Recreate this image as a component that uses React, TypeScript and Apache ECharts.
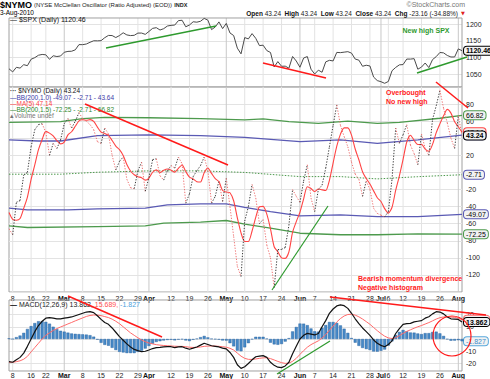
import React, { useEffect, useRef } from "react";
import * as echarts from "echarts";

const FONT = "Liberation Sans, Arial, sans-serif";

const monthDays: [string, number[]][] = [
  ["Feb", [5, 8, 9, 10, 11, 12, 16, 17, 18, 19, 22, 23, 24, 25, 26]],
  ["Mar", [1, 2, 3, 4, 5, 8, 9, 10, 11, 12, 15, 16, 17, 18, 19, 22, 23, 24, 25, 26, 29, 30, 31]],
  ["Apr", [1, 5, 6, 7, 8, 9, 12, 13, 14, 15, 16, 19, 20, 21, 22, 23, 26, 27, 28, 29, 30]],
  ["May", [3, 4, 5, 6, 7, 10, 11, 12, 13, 14, 17, 18, 19, 20, 21, 24, 25, 26, 27, 28]],
  ["Jun", [1, 2, 3, 4, 7, 8, 9, 10, 11, 14, 15, 16, 17, 18, 21, 22, 23, 24, 25, 28, 29, 30]],
  ["Jul", [1, 2, 6, 7, 8, 9, 12, 13, 14, 15, 16, 19, 20, 21, 22, 23, 26, 27, 28, 29, 30]],
  ["Aug", [2, 3]],
];
const dates: string[] = monthDays.flatMap(([m, ds]) => ds.map((d) => `${m} ${d}`));

const xTicks: [string, string][] = [
  ["Feb 8", "8"], ["Feb 16", "16"], ["Feb 22", "22"], ["Mar 1", "Mar"], ["Mar 8", "8"],
  ["Mar 15", "15"], ["Mar 22", "22"], ["Mar 29", "29"], ["Apr 1", "Apr"], ["Apr 12", "12"],
  ["Apr 19", "19"], ["Apr 26", "26"], ["May 3", "May"], ["May 10", "10"], ["May 17", "17"],
  ["May 24", "24"], ["Jun 1", "Jun"], ["Jun 7", "7"], ["Jun 14", "14"], ["Jun 21", "21"],
  ["Jun 28", "28"], ["Jul 1", "Jul"], ["Jul 6", "6"], ["Jul 12", "12"], ["Jul 19", "19"],
  ["Jul 26", "26"], ["Aug 2", "Aug"],
];
const monthNames = ["Mar", "Apr", "May", "Jun", "Jul", "Aug"];

const spx = [
  1066.19, 1056.74, 1070.52, 1068.13, 1078.47, 1075.51, 1094.87, 1099.51, 1106.75, 1109.17, 1108.01, 1094.6, 1105.24, 1102.94, 1104.49,
  1115.71, 1118.31, 1118.79, 1122.97, 1138.7, 1138.5, 1140.45, 1145.61, 1150.24, 1149.99, 1150.51, 1159.46, 1166.21, 1165.83, 1159.9, 1165.81, 1174.17, 1167.72, 1165.73, 1166.59, 1173.22, 1173.27, 1169.43,
  1178.1, 1187.44, 1189.44, 1182.45, 1186.44, 1194.37, 1196.48, 1197.3, 1210.65, 1211.67, 1192.13, 1197.52, 1207.17, 1205.94, 1208.67, 1217.28, 1212.05, 1183.71, 1191.36, 1206.78, 1186.69,
  1202.26, 1173.6, 1165.87, 1128.15, 1110.88, 1159.73, 1155.79, 1171.67, 1157.44, 1135.68, 1136.94, 1120.8, 1115.05, 1071.59, 1087.69, 1073.65, 1074.03, 1067.95, 1103.06, 1089.41,
  1070.71, 1098.38, 1102.83, 1064.88, 1050.47, 1062.0, 1055.69, 1086.84, 1091.6, 1089.63, 1115.23, 1114.61, 1116.04, 1117.51, 1113.2, 1095.31, 1092.04, 1073.69, 1076.76, 1074.57, 1041.24, 1030.71,
  1027.37, 1022.58, 1028.06, 1060.27, 1070.25, 1077.96, 1078.75, 1095.34, 1095.17, 1096.48, 1064.88, 1071.25, 1083.48, 1069.59, 1093.67, 1102.66, 1115.01, 1113.84, 1106.13, 1101.53, 1101.6,
  1125.86, 1120.46,
];

const nymo = [
  -66, -73, -35, -33, -3, 0, 30, 50, 56, 57, 47, 20, 34, 28, 38,
  57, 63, 52, 60, 70, 63, 60, 56, 50, 36, 34, 52, 45, 20, 3, 13, 18, -8, -18, -19, 2, 12, -22,
  -6, 15, 16, -4, -9, 2, 8, 5, 18, 10, -36, -25, -5, 2, 8, 18, 2, -36, -28, -10, -34,
  -7, -40, -75, -110, -122, -57, -40, -14, -30, -60, -55, -85, -100, -135, -90, -90, -88, -62, -20, -28,
  -35, -10, 9, -30, -46, -20, -15, 5, 30, 55, 79, 55, 42, 30, 12, -2, -8, -28, -10, -20, -42, -48,
  -50, -52, -46, -8, 52, 34, 44, 56, 32, 22, 9, 45, 28, 20, 62, 78, 96, 75, 58, 40, 28,
  66.4, 43.24,
];

const ma5 = [
  -47, -55, -56, -54, -42, -28.8, -8.2, 8.8, 26.6, 38.6, 48, 46, 42.8, 37.2, 33.4,
  35.4, 44, 47.6, 54, 60.4, 61.6, 61, 61.8, 59.8, 53, 47.2, 45.6, 43.4, 37.4, 30.8, 26.6, 19.8, 9.2, 1.6, -2.8, -5, -6.2, -9,
  -6.6, 0.2, 3, -0.2, 2.4, 4, 2.6, 0.4, 4.8, 8.6, 1, -5.6, -7.6, -10.8, -11.2, -0.4, 5, -1.2, -7.2, -10.8, -21.2,
  -23, -23.8, -33.2, -53.2, -70.8, -80.8, -80.8, -68.6, -52.6, -40.2, -39.8, -48.8, -66, -87, -93, -100, -100.6, -93, -70, -57.6,
  -46.6, -31, -16.8, -18.8, -22.4, -19.4, -20.4, -21.2, -9.2, 11, 30.8, 44.8, 52.2, 52.2, 43.6, 27.4, 14.8, 0.8, -7.2, -13.6, -21.6, -29.6,
  -34, -42.4, -47.6, -40.8, -20.8, -4, 15.2, 35.6, 43.6, 37.6, 32.6, 32.8, 27.2, 24.8, 32.8, 46.6, 56.8, 66.2, 73.8, 69.4, 59.4,
  53.5, 47.14,
];

// Bollinger bands (200-day), read at key dates: [day index, value]
const bb15Upper: [number, number][] = [[0, 58.6], [14, 59.5], [20, 63], [26, 64.5], [38, 64], [52, 63], [64, 61.4], [69, 62.6], [76, 59.5], [84, 57.5], [92, 60], [100, 57.5], [106, 58.7], [117, 63.4], [123, 66.82]];
const bb10Upper: [number, number][] = [[0, 38], [8, 36.8], [14, 36.8], [24, 43], [38, 43.9], [52, 43], [64, 41], [79, 36], [90, 38], [100, 34], [111, 38], [123, 43.64]];
const bbMid: [number, number][] = [[0, -2.1], [14, -2.1], [24, 0.2], [38, 1.8], [52, 1.8], [64, 0], [79, -4.9], [90, -4.9], [100, -7.6], [111, -5], [123, -2.71]];
const bb10Lower: [number, number][] = [[0, -41.9], [5, -43.9], [16, -43.9], [24, -42.7], [37, -41.9], [43, -38], [52, -36.8], [59, -36.8], [64, -41], [71, -45.8], [79, -50.9], [90, -49.7], [100, -51.7], [111, -51.7], [123, -49.07]];
const bb15Lower: [number, number][] = [[0, -62.6], [5, -64.5], [24, -63.4], [37, -62.6], [42, -59.4], [52, -58.3], [59, -56.3], [64, -60.5], [71, -65.3], [79, -71.2], [90, -73], [100, -73], [111, -72], [123, -72.25]];

const macd = [
  -18.5, -19, -17, -15, -11.5, -6, 0, 6, 11, 14.5, 17, 17.5, 17, 16.5, 16.5,
  17, 17.5, 18, 19, 20, 21, 22, 22.3, 21.5, 19, 16, 13.5, 12, 9, 5.5, 2, -1, -4, -6.5, -8.5, -9.5, -10.3, -10,
  -9, -7.8, -7, -6.8, -6.5, -6.3, -6.3, -7, -6.5, -6.3, -7.5, -8.4, -7.5, -6.5, -5, -3.5, -4.5, -5.5, -6, -6.5, -7.5,
  -8, -11, -15, -21, -24, -22.6, -20, -17, -14.5, -14, -13.6, -15, -19, -21.5, -23, -23.4, -22, -19, -12, -6,
  0, 3, 4.6, 4, 3.3, 4.5, 10, 15, 21, 24.5, 27, 27.8, 27.2, 25, 21, 16.5, 12.5, 9, 6, 3, -0.8, -3.5,
  -5.2, -6.3, -4.5, -1.5, 4.5, 8.5, 12, 12.5, 12.8, 14, 14.5, 15, 17, 18.2, 20.5, 22.3, 22, 20.5, 18, 16.5, 16.3,
  16, 13.862,
];
const signal = [
  -19, -19, -18.5, -17.8, -16.5, -14.2, -10.5, -7, -3.5, 0, 3, 5, 7, 8.5, 9.8,
  11, 12.3, 13.5, 14.8, 16, 17.2, 18.4, 19.2, 19.6, 19.5, 19.1, 18.3, 17.5, 16.2, 14.5, 12.5, 10, 7.5, 5, 3, 1, -0.8, -2.2,
  -3.3, -4, -4.6, -5, -5.3, -5.5, -5.7, -5.9, -6, -6, -6.3, -6.7, -6.9, -6.8, -6.5, -6, -5.8, -5.7, -5.8, -6, -6.3,
  -6.7, -7.6, -9, -11.5, -14, -15.8, -16.6, -16.7, -16.3, -15.8, -15.4, -15.3, -16, -17.1, -18.3, -19.3, -19.9, -19.7, -18.2, -15.8,
  -12.6, -9.5, -6.7, -4.6, -3, -1.5, 0.8, 3.6, 7.1, 10.6, 13.9, 16.7, 18.8, 20, 20.2, 19.5, 18.1, 16.3, 14.2, 12, 9.4, 6.8,
  4.4, 2.3, 0.9, 0.4, 1.2, 2.7, 4.6, 6.2, 7.5, 8.8, 10, 11, 12.2, 13.4, 14.8, 16.3, 17.4, 18, 18.2, 17.9, 17.6,
  17, 15.689,
];
const hist = [
  0.5, 0, 1.5, 2.8, 5, 8.2, 10.5, 13, 14.5, 14.5, 14, 12.5, 10, 8, 6.7,
  6, 5.2, 4.5, 4.2, 4, 3.8, 3.6, 3.1, 1.9, -0.5, -3.1, -4.8, -5.5, -7.2, -9, -10.5, -11, -11.5, -11.5, -11.5, -10.5, -9.5, -7.8,
  -5.7, -3.8, -2.4, -1.8, -1.2, -0.8, -0.6, -1.1, -0.5, -0.3, -1.2, -1.7, -0.6, 0.3, 1.5, 2.5, 1.3, 0.2, -0.2, -0.5, -1.2,
  -1.3, -3.4, -6, -9.5, -10, -6.8, -3.4, -0.3, 1.8, 1.8, 1.8, 0.3, -3, -4.4, -4.7, -4.1, -2.1, 0.7, 6.2, 9.8,
  12.6, 12.5, 11.3, 8.6, 6.3, 6, 9.2, 11.4, 13.9, 13.9, 13.1, 11.1, 8.4, 5, 0.8, -3, -5.6, -7.3, -8.2, -9, -10.2, -10.3,
  -9.6, -8.6, -5.4, -1.9, 3.3, 5.8, 7.4, 6.3, 5.3, 5.2, 4.5, 4, 4.8, 4.8, 5.7, 6, 4.6, 2.5, -0.2, -1.4, -1.3,
  -1, -1.827,
];

const spxLabels = [1050, 1100, 1150, 1200];
const spxPanel: [number, number] = [1011.5, 1218.5];
const nymoHidden = [100, -140, 0, 40];
const nymoPanel: [number, number] = [-140, 100];
const macdLabels = [-20, -10, 10, 20];
const macdPanel: [number, number] = [-26.12, 31.84];

const LABEL = { fontSize: 7, fontFamily: FONT, color: "#222" };
const GRID_LINE = "#e3e3e3";
const MONTH_LINE = "#c8c8c8";
const FRAME = "#a0a0a0";

function buildOption() {
  const tickIndex = new Map<number, string>(xTicks.map(([d, l]) => [dates.indexOf(d), l]));
  const monthIdx = xTicks.filter(([, l]) => monthNames.includes(l)).map(([d]) => dates.indexOf(d));
  const weekIdx = xTicks.filter(([, l]) => !monthNames.includes(l)).map(([d]) => dates.indexOf(d));
  const lastIdx = dates.length - 1;

  // SPX and MACD panels use nice axis ranges; their visible frame is drawn over the data range below.
  const grid = [
    { left: 9, right: 28, top: 7.5, height: 83.33, show: false },
    { left: 9, right: 28, top: 87, height: 205, show: true, borderColor: FRAME, borderWidth: 1, backgroundColor: "#fff" },
    { left: 9, right: 28, top: 290, height: 85.75, show: false },
  ];

  const xAxis = (gridIndex: number, labels: boolean, margin: number) => ({
    type: "category",
    gridIndex,
    data: dates,
    boundaryGap: false,
    axisLine: { show: false },
    axisTick: { show: false },
    axisLabel: {
      show: labels,
      interval: (i: number) => tickIndex.has(i),
      margin,
      fontSize: 7,
      fontFamily: FONT,
      color: "#222",
      formatter: (_v: string, i: number) => {
        const l = tickIndex.get(i) ?? "";
        return monthNames.includes(l) ? `{b|${l}}` : l;
      },
      rich: { b: { fontSize: 7, fontWeight: "bold", fontFamily: FONT, color: "#111" } },
    },
    splitLine: { show: false },
  });

  const yAxis = [
    {
      type: "value", gridIndex: 0, position: "right", min: 1000, max: 1250, interval: 50,
      axisLine: { show: false }, axisTick: { show: false },
      axisLabel: { ...LABEL, margin: 4, showMinLabel: false, showMaxLabel: false, formatter: (v: number) => (spxLabels.includes(v) ? String(v) : "") },
      splitLine: { show: true, showMinLine: false, showMaxLine: false, lineStyle: { color: GRID_LINE } },
    },
    {
      type: "value", gridIndex: 1, position: "right", min: -140, max: 100, interval: 20,
      axisLine: { show: false }, axisTick: { show: false },
      axisLabel: { ...LABEL, margin: 4, formatter: (v: number) => (nymoHidden.includes(v) ? "" : String(v)) },
      splitLine: { show: true, lineStyle: { color: GRID_LINE } },
    },
    {
      type: "value", gridIndex: 2, position: "right", min: -30, max: 40, interval: 10,
      axisLine: { show: false }, axisTick: { show: false },
      axisLabel: { ...LABEL, margin: 4, showMinLabel: false, showMaxLabel: false, formatter: (v: number) => (macdLabels.includes(v) ? String(v) : "") },
      splitLine: {
        show: true, showMinLine: false, showMaxLine: false,
        lineStyle: { color: [GRID_LINE, GRID_LINE, GRID_LINE, GRID_LINE, GRID_LINE, "rgba(0,0,0,0)"] },
      },
    },
  ];

  // vertical week / month lines limited to a panel's value range, through the axes' own scales
  const vLines = (axisIndex: number, idxs: number[], [lo, hi]: [number, number], color: string) => ({
    type: "custom",
    xAxisIndex: axisIndex,
    yAxisIndex: axisIndex,
    silent: true,
    z: 1,
    clip: false,
    data: idxs.map((i) => [i, lo, hi]),
    renderItem: (_p: any, api: any) => {
      const a = api.coord([api.value(0), api.value(1)]);
      const b = api.coord([api.value(0), api.value(2)]);
      return { type: "line", shape: { x1: a[0], y1: a[1], x2: b[0], y2: b[1] }, style: { stroke: color, lineWidth: 1 } };
    },
  });
  const frame = (axisIndex: number, [lo, hi]: [number, number]) => ({
    type: "custom",
    xAxisIndex: axisIndex,
    yAxisIndex: axisIndex,
    silent: true,
    z: 1,
    clip: false,
    data: [[0, lo, lastIdx, hi]],
    renderItem: (_p: any, api: any) => {
      const tl = api.coord([api.value(0), api.value(3)]);
      const br = api.coord([api.value(2), api.value(1)]);
      return {
        type: "rect",
        shape: { x: tl[0], y: tl[1], width: br[0] - tl[0], height: br[1] - tl[1] },
        style: { fill: "none", stroke: FRAME, lineWidth: 1 },
      };
    },
  });

  const tag = (border: string, text: string, extra: any = {}) => ({
    show: true,
    formatter: text,
    distance: 2,
    fontSize: 7,
    fontFamily: FONT,
    color: "#000",
    backgroundColor: "#f2f2f2",
    borderColor: border,
    borderWidth: 1,
    borderRadius: 3,
    padding: [1, 2, 0, 2],
    ...extra,
  });

  const GREEN = "#4d9a4d";
  const BLUE = "#5a5ab4";
  const RED = "#ff4444";

  const nymoSegments = nymo.slice(1).map((v, k) => ({
    coords: [[k, nymo[k]], [k + 1, v]],
    lineStyle: { color: v >= nymo[k] ? "#3c3c3c" : "#f07575" },
  }));

  const lineBase = { type: "line", symbol: "none", silent: true, animation: false };

  const series: any[] = [
    vLines(0, weekIdx, spxPanel, GRID_LINE),
    vLines(0, monthIdx, spxPanel, MONTH_LINE),
    frame(0, spxPanel),
    vLines(1, weekIdx, nymoPanel, GRID_LINE),
    vLines(1, monthIdx, nymoPanel, MONTH_LINE),
    vLines(2, weekIdx, macdPanel, GRID_LINE),
    vLines(2, monthIdx, macdPanel, MONTH_LINE),
    frame(2, macdPanel),
    {
      ...lineBase, name: "SPX", xAxisIndex: 0, yAxisIndex: 0, data: spx, z: 3,
      lineStyle: { color: "#4a4a4a", width: 1 },
      endLabel: tag("#000", "1120.46", { fontWeight: "bold" }),
    },
    {
      ...lineBase, xAxisIndex: 1, yAxisIndex: 1, data: bbMid, z: 2,
      lineStyle: { color: GREEN, width: 1, type: [1.5, 1.5] },
      endLabel: tag(BLUE, "-2.71"),
    },
    { ...lineBase, xAxisIndex: 1, yAxisIndex: 1, data: bb15Upper, z: 2, lineStyle: { color: GREEN, width: 1.3 }, endLabel: tag(GREEN, "66.82") },
    { ...lineBase, xAxisIndex: 1, yAxisIndex: 1, data: bb15Lower, z: 2, lineStyle: { color: GREEN, width: 1.3 }, endLabel: tag(GREEN, "-72.25") },
    { ...lineBase, xAxisIndex: 1, yAxisIndex: 1, data: bb10Upper, z: 2, lineStyle: { color: BLUE, width: 1.3 }, endLabel: tag(BLUE, "43.64") },
    { ...lineBase, xAxisIndex: 1, yAxisIndex: 1, data: bb10Lower, z: 2, lineStyle: { color: BLUE, width: 1.3 }, endLabel: tag(BLUE, "-49.07") },
    {
      ...lineBase, xAxisIndex: 1, yAxisIndex: 1, data: ma5, z: 3, smooth: 0.25,
      lineStyle: { color: RED, width: 1.1 }, endLabel: tag(RED, "47.14"),
    },
    {
      type: "lines", coordinateSystem: "cartesian2d", xAxisIndex: 1, yAxisIndex: 1, silent: true, z: 4,
      data: nymoSegments, lineStyle: { width: 1, type: [1.3, 1.5], opacity: 1 }, effect: { show: false },
    },
    {
      ...lineBase, xAxisIndex: 1, yAxisIndex: 1, data: nymo, z: 6,
      lineStyle: { opacity: 0 }, endLabel: tag("#000", "43.24", { fontWeight: "bold" }),
    },
    {
      ...lineBase, xAxisIndex: 2, yAxisIndex: 2, data: hist, z: 1,
      lineStyle: { opacity: 0 }, endLabel: tag("#58a8dc", "-1.827", { color: "#3a8ccc" }),
    },
    {
      type: "bar", xAxisIndex: 2, yAxisIndex: 2, data: hist, silent: true, barWidth: "80%", z: 2,
      itemStyle: { color: "#4789c7", borderColor: "#1f5c99", borderWidth: 0.4 },
    },
    { ...lineBase, xAxisIndex: 2, yAxisIndex: 2, data: signal, z: 4, lineStyle: { color: "#ff6a6a", width: 1 }, endLabel: tag("#ff6a6a", "15.689") },
    { ...lineBase, xAxisIndex: 2, yAxisIndex: 2, data: macd, z: 5, lineStyle: { color: "#111", width: 1.2 }, endLabel: tag("#000", "13.862", { fontWeight: "bold" }) },
  ];

  const T = (x: number, y: number, text: string, style: any = {}) => ({
    type: "text", x, y, silent: true, z: 100,
    style: { text, fontSize: 7, fontFamily: FONT, fill: "#000", verticalAlign: "middle", ...style },
  });
  const L = (x1: number, y1: number, x2: number, y2: number, color: string, w = 1.5) => ({
    type: "line", silent: true, z: 100, shape: { x1, y1, x2, y2 }, style: { stroke: color, lineWidth: w },
  });
  const ANN_RED = "#ff1a1a";
  const ANN_GREEN = "#2e9a2e";

  const graphic: any[] = [
    T(0, 5, "{a|$NYMO} {b|(NYSE McClellan Oscillator (Ratio Adjusted) (EOD))} {c|INDX}", {
      rich: {
        a: { fontSize: 9, fontWeight: "bold", fontFamily: FONT, fill: "#000" },
        b: { fontSize: 6, fontFamily: FONT, fill: "#222" },
        c: { fontSize: 5.5, fontWeight: "bold", fontFamily: FONT, fill: "#222" },
      },
    }),
    T(0, 12.5, "3-Aug-2010", { fontSize: 6.5 }),
    T(465, 4.5, "\u00a9StockCharts.com", { align: "right", fill: "#777", fontSize: 7 }),
    T(458, 13, "{b|Open} 43.24  {b|High} 43.24  {b|Low} 43.24  {b|Close} 43.24  {b|Chg} -23.16 (-34.88%)", {
      align: "right", fontSize: 6.5, fill: "#222",
      rich: { b: { fontWeight: "bold", fontSize: 6.5, fontFamily: FONT, fill: "#111" } },
    }),
    T(463, 13, "\u25BC", { align: "center", fill: "#e02020", fontSize: 5, fontFamily: "DejaVu Sans" }),
    T(10, 19.5, "\u2014 $SPX (Daily) 1120.46", { fontSize: 7, fill: "#111" }),
    // NYMO legend
    T(10, 90.7, "{m|\u00b7\u00b7\u00b7} $NYMO (Daily) 43.24", { fontSize: 6.5, fill: "#111", rich: { m: { fontSize: 6.5, fontWeight: "bold", fill: "#333" } } }),
    T(10, 97, "\u2014BB(200,1.0) -49.07 - -2.71 - 43.64", { fontSize: 6.5, fill: "#3c3ca8" }),
    T(10, 103.4, "\u2014MA(5) 47.14", { fontSize: 6.5, fill: RED }),
    T(10, 109.7, "\u2014BB(200,1.5) -72.25 - -2.71 - 66.82", { fontSize: 6.5, fill: "#2f8a2f" }),
    T(10, 115.8, "\u25B4Volume undef", { fontSize: 6.5, fill: "#777" }),
    // MACD legend
    T(10, 304.5, "{k|\u2014} MACD(12,26,9) 13.862, {r|15.689,} {c|-1.827}", {
      fontSize: 7, fill: "#222",
      rich: {
        k: { fontSize: 7, fontWeight: "bold", fill: "#000" },
        r: { fontSize: 7, fontFamily: FONT, fill: "#ff5050" },
        c: { fontSize: 7, fontFamily: FONT, fill: "#4aa0dc" },
      },
    }),
    // annotations
    L(106, 48, 216, 26, ANN_GREEN),
    L(263, 63, 326, 78, ANN_RED),
    L(417, 73, 467, 57, ANN_GREEN),
    T(426, 30, "New high SPX", { align: "center", fontWeight: "bold", fill: "#2e9a2e", fontSize: 7 }),
    L(436, 82, 468, 108, ANN_RED),
    T(386, 92.3, "Overbought", { fontWeight: "bold", fill: ANN_RED, fontSize: 7 }),
    T(386, 101, "No new high", { fontWeight: "bold", fill: ANN_RED, fontSize: 7 }),
    L(85, 104, 228, 165, ANN_RED),
    L(272, 290, 328, 206, ANN_GREEN, 1.2),
    T(358, 278, "Bearish momentum divergence", { fontWeight: "bold", fill: ANN_RED, fontSize: 7 }),
    T(358, 287, "Negative histogram", { fontWeight: "bold", fill: ANN_RED, fontSize: 7 }),
    L(68, 296, 162, 337, ANN_RED),
    L(330, 297, 486, 315, ANN_RED),
    L(277, 374, 330, 341, ANN_GREEN, 1.2),
    { type: "ellipse", silent: true, z: 100, shape: { cx: 452, cy: 336, rx: 19, ry: 20 }, style: { stroke: ANN_RED, lineWidth: 1.2, fill: "none" } },
  ];

  return {
    animation: false,
    backgroundColor: "#fff",
    textStyle: { fontFamily: FONT },
    grid,
    xAxis: [xAxis(0, false, 3), xAxis(1, true, 3), xAxis(2, true, -4)],
    yAxis,
    series,
    graphic,
  };
}

export default function App() {
  const ref = useRef<HTMLDivElement>(null);
  useEffect(() => {
    document.body.style.margin = "0";
    const chart = echarts.init(ref.current!, null, { renderer: "svg" });
    chart.setOption(buildOption() as any);
    return () => chart.dispose();
  }, []);
  return (
    <div
      ref={ref}
      style={{ position: "absolute", left: 0, top: 0, width: 490, height: 379, background: "#fff" }}
    />
  );
}
